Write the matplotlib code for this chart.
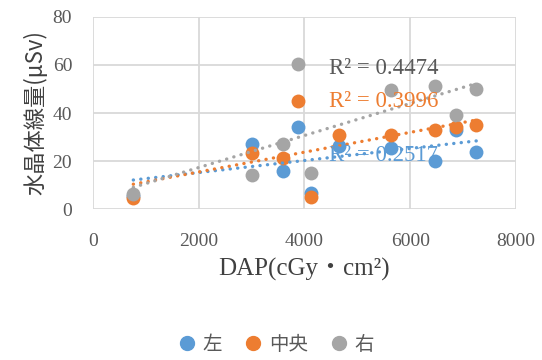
import numpy as np
import matplotlib.pyplot as plt
from matplotlib.lines import Line2D

# DAP (cGy・cm²) vs 水晶体線量 (μSv) for each eye position
dap_left = [762, 3012, 3598, 3881, 4115, 4656, 5627, 6465, 6862, 7253]
dose_left = [5.5, 27, 16, 34.3, 6.5, 26.4, 25.4, 19.9, 32.9, 23.9]

dap_center = [762, 3012, 3598, 3881, 4115, 4656, 5627, 6465, 6862, 7253]
dose_center = [4.7, 23.2, 21.1, 45.1, 5.1, 30.8, 30.8, 32.9, 34.0, 34.9]

dap_right = [762, 3012, 3598, 3881, 4115, 5627, 6465, 6862, 7253]
dose_right = [6.1, 14.2, 27, 60.4, 15.1, 49.6, 51.3, 39.2, 50.1]

r2_labels = ['R² = 0.2517', 'R² = 0.3996', 'R² = 0.4474']
names = ['左', '中央', '右']
colors = ['#5B9BD5', '#ED7D31', '#A5A5A5']
label_colors = ['#5B9BD5', '#ED7D31', '#595959']
label_pos = [(4460, 22.5), (4460, 45), (4460, 58.5)]

serif = ['Liberation Serif', 'Noto Sans CJK JP']
cjk = ['Noto Sans CJK JP', 'Liberation Serif']
plt.rcParams['font.family'] = serif

fig = plt.figure(figsize=(5.42, 3.6), dpi=100)
ax = fig.add_axes([0.1716, 0.4194, 0.7804, 0.5334])

series = [(dap_left, dose_left), (dap_center, dose_center), (dap_right, dose_right)]
for (x, y), c in zip(series, colors):
    ax.scatter(x, y, s=100, color=c, zorder=3, linewidths=0)

# linear trend lines
for (x, y), c in zip(series, colors):
    k, b = np.polyfit(x, y, 1)
    xs = np.array([min(x), max(x)])
    ax.plot(xs, k * xs + b, color=c, lw=2.4, linestyle=(0, (0.05, 2.2)),
            dash_capstyle='round', zorder=4)

for txt, c, (tx, ty) in zip(r2_labels, label_colors, label_pos):
    ax.text(tx, ty, txt, color=c, fontsize=16.5, family=serif, va='center', zorder=5)

ax.set_xlim(0, 8000)
ax.set_ylim(0, 80)
ax.set_xticks(range(0, 8001, 2000))
ax.set_yticks(range(0, 81, 20))
ax.grid(True, color='#D9D9D9', lw=1.3)
ax.set_axisbelow(True)
for s in ax.spines.values():
    s.set_visible(False)
ax.tick_params(length=0, labelsize=14, colors='#595959')
ax.tick_params(axis='x', pad=17)
ax.tick_params(axis='y', pad=15)

ax.set_xlabel('DAP(cGy・cm²)', fontsize=18, color='#404040', family=serif, labelpad=6)
ax.set_ylabel('水晶体線量(μSv)', fontsize=16, color='#404040', family=cjk, labelpad=4)

handles = [Line2D([], [], marker='o', linestyle='', markersize=10, color=c) for c in colors]
fig.legend(handles, names, loc='lower center', bbox_to_anchor=(0.5, -0.035), ncol=3,
           frameon=False, handletextpad=-0.2, columnspacing=0.6,
           prop={'family': cjk, 'size': 14}, labelcolor='#595959')

fig.savefig('out.png', dpi=100)
